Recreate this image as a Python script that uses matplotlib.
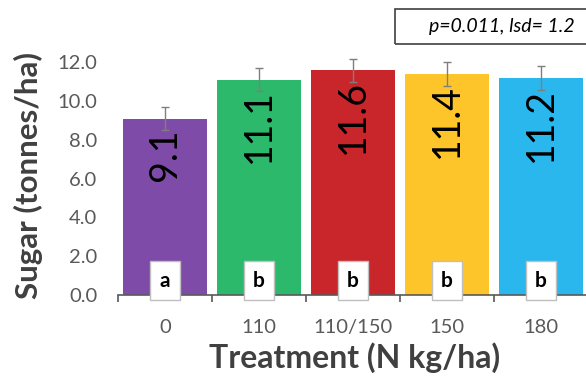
import matplotlib.pyplot as plt
from matplotlib.patches import Rectangle

treatments = ['0', '110', '110/150', '150', '180']
sugar = [9.1, 11.1, 11.6, 11.4, 11.2]
err = [0.6, 0.6, 0.6, 0.6, 0.6]
letters = ['a', 'b', 'b', 'b', 'b']
colors = ['#7F4BA8', '#2DB96B', '#C8262A', '#FEC52A', '#2AB7EE']
stats_text = 'p=0.011, lsd= 1.2'

plt.rcParams['font.family'] = ['Lato', 'DejaVu Sans']

fig = plt.figure(figsize=(5.86, 3.79), dpi=100)
ax = fig.add_axes([0.2014, 0.2216, 0.8017, 0.716])

x = list(range(len(treatments)))
ax.bar(x, sugar, width=0.9, color=colors, zorder=2)
ax.errorbar(x, sugar, yerr=err, fmt='none', ecolor='#7f7f7f',
            elinewidth=1, capsize=3, capthick=1, zorder=3)

# value labels, rotated, near top of bar
for xi, v in zip(x, sugar):
    ax.text(xi, v - 0.5, f'{v:.1f}', rotation=90, ha='center', va='top',
            fontsize=27, color='black', zorder=4)

# significance letters in small boxes
for xi, l in zip(x, letters):
    ax.text(xi, 0.22, l, ha='center', va='bottom', fontsize=15,
            fontweight='bold', color='black', zorder=4,
            bbox=dict(boxstyle='square,pad=0.45', fc='white', ec='#bfbfbf', lw=1))

ax.set_xlim(-0.5, 4.5)
ax.set_ylim(0, 14)
ax.set_yticks([0, 2, 4, 6, 8, 10, 12])
ax.set_yticklabels([f'{t:.1f}' for t in [0, 2, 4, 6, 8, 10, 12]])
ax.set_xticks(x)
ax.set_xticklabels(treatments)
ax.set_xticks([i - 0.5 for i in range(len(treatments) + 1)], minor=True)

for s in ['top', 'right', 'left']:
    ax.spines[s].set_visible(False)
ax.spines['bottom'].set_color('#595959')
ax.spines['bottom'].set_linewidth(1.2)

ax.tick_params(axis='y', length=0, pad=15, labelsize=14.5, labelcolor='#595959')
ax.tick_params(axis='x', which='major', length=0, pad=17, labelsize=14.5,
               labelcolor='#595959')
ax.tick_params(axis='x', which='minor', length=5, width=1.2, color='#595959')

ax.set_xlabel('Treatment (N kg/ha)', fontsize=23, fontweight='bold',
              color='#404040')
ax.set_ylabel('Sugar (tonnes/ha)', fontsize=22.5, fontweight='bold',
              color='#404040')
ax.xaxis.set_label_coords(0.504, -0.175)
ax.yaxis.set_label_coords(-0.16, 0.44)

# stats box, clipped at the right edge like the original
fig.patches.append(Rectangle((0.674, 0.884), 0.4, 0.092, transform=fig.transFigure,
                             fill=False, ec='#404040', lw=1.2))
fig.text(0.981, 0.93, stats_text, ha='right', va='center', fontsize=14,
         style='italic', color='black')

fig.savefig('out.png', dpi=100)
